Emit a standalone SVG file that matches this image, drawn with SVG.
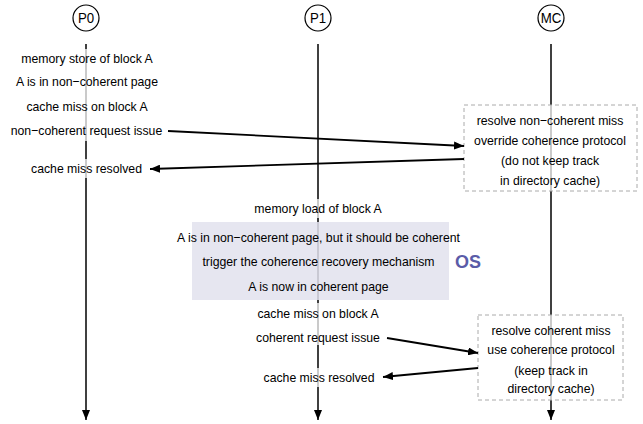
<svg xmlns="http://www.w3.org/2000/svg" width="643" height="424" viewBox="0 0 643 424">
<defs>
<marker id="ah" viewBox="0 0 10 8" refX="10" refY="4" markerWidth="10" markerHeight="8" markerUnits="userSpaceOnUse" orient="auto">
<path d="M0,0 L10,4 L0,8 z" fill="#000"/>
</marker>
</defs>
<style>
text{font-family:"Liberation Sans",Arial,sans-serif;font-size:13.4px;fill:#000;text-anchor:middle;transform-box:fill-box;transform-origin:center;transform:scale(0.915,1)}
.lbl{font-size:14.5px}
.life{stroke:#000;stroke-width:1.5;fill:none}
.head{fill:#fff;stroke:#000;stroke-width:1.2}
.bg{fill:#fff;fill-opacity:0.72}
.box{fill:#fff;fill-opacity:0.72;stroke:#aaa;stroke-width:1;stroke-dasharray:4,3}
.msg{stroke:#000;stroke-width:1.8;fill:none}
.os{fill:#e2e2ed}
text.oslabel{font-size:18px;font-weight:bold;fill:#5a5ca8;transform:none}
</style>
<g id="lifelines">
<line class="life" x1="86" y1="44" x2="86" y2="420" marker-end="url(#ah)"/>
<line class="life" x1="318" y1="44" x2="318" y2="420" marker-end="url(#ah)"/>
<line class="life" x1="551" y1="44" x2="551" y2="420" marker-end="url(#ah)"/>
</g>
<g id="P0"><circle class="head" cx="86" cy="18" r="13"/><text class="lbl" x="86" y="23">P0</text></g>
<g id="P1"><circle class="head" cx="318" cy="18" r="13"/><text class="lbl" x="318" y="23">P1</text></g>
<g id="MC"><circle class="head" cx="551" cy="18" r="13"/><text class="lbl" x="551" y="23">MC</text></g>
<g id="p0-events">
<rect class="bg" x="8" y="49" width="158" height="92"/>
<rect class="bg" x="28" y="159" width="118" height="19"/>
<text x="87" y="63.5">memory store of block A</text>
<text x="87" y="86.5">A is in non−coherent page</text>
<text x="87" y="111.5">cache miss on block A</text>
<text x="86.5" y="135">non−coherent request issue</text>
<text x="86.5" y="173">cache miss resolved</text>
</g>
<g id="mc-box1">
<rect class="box" x="464" y="105" width="173" height="86"/>
<text x="550" y="125.5">resolve non−coherent miss</text>
<text x="550" y="145.5">override coherence protocol</text>
<text x="550" y="165.5">(do not keep track</text>
<text x="550" y="185">in directory cache)</text>
</g>
<g id="os">
<rect class="bg" x="250" y="199" width="136" height="19"/>
<text x="318" y="213">memory load of block A</text>
<rect class="os" x="192" y="222" width="257" height="78" fill-opacity="0.85"/>
<text x="318.5" y="242">A is in non−coherent page, but it should be coherent</text>
<text x="318.5" y="266">trigger the coherence recovery mechanism</text>
<text x="318.5" y="291">A is now in coherent page</text>
<text class="oslabel" x="468" y="267.5">OS</text>
</g>
<g id="p1-events">
<rect class="bg" x="250" y="303" width="136" height="42"/>
<rect class="bg" x="258" y="368" width="122" height="19"/>
<text x="318" y="318.5">cache miss on block A</text>
<text x="318" y="342.5">coherent request issue</text>
<text x="319" y="382.5">cache miss resolved</text>
</g>
<g id="mc-box2">
<rect class="box" x="478" y="315" width="145" height="85"/>
<text x="551" y="335">resolve coherent miss</text>
<text x="551" y="354.5">use coherence protocol</text>
<text x="551" y="375">(keep track in</text>
<text x="551" y="393.5">directory cache)</text>
</g>
<g id="connectors">
<line class="msg" x1="168" y1="131" x2="464" y2="146" marker-end="url(#ah)"/>
<line class="msg" x1="464" y1="159" x2="150" y2="169" marker-end="url(#ah)"/>
<line class="msg" x1="387" y1="338" x2="478" y2="353" marker-end="url(#ah)"/>
<line class="msg" x1="478" y1="368" x2="383" y2="377" marker-end="url(#ah)"/>
</g>
</svg>
